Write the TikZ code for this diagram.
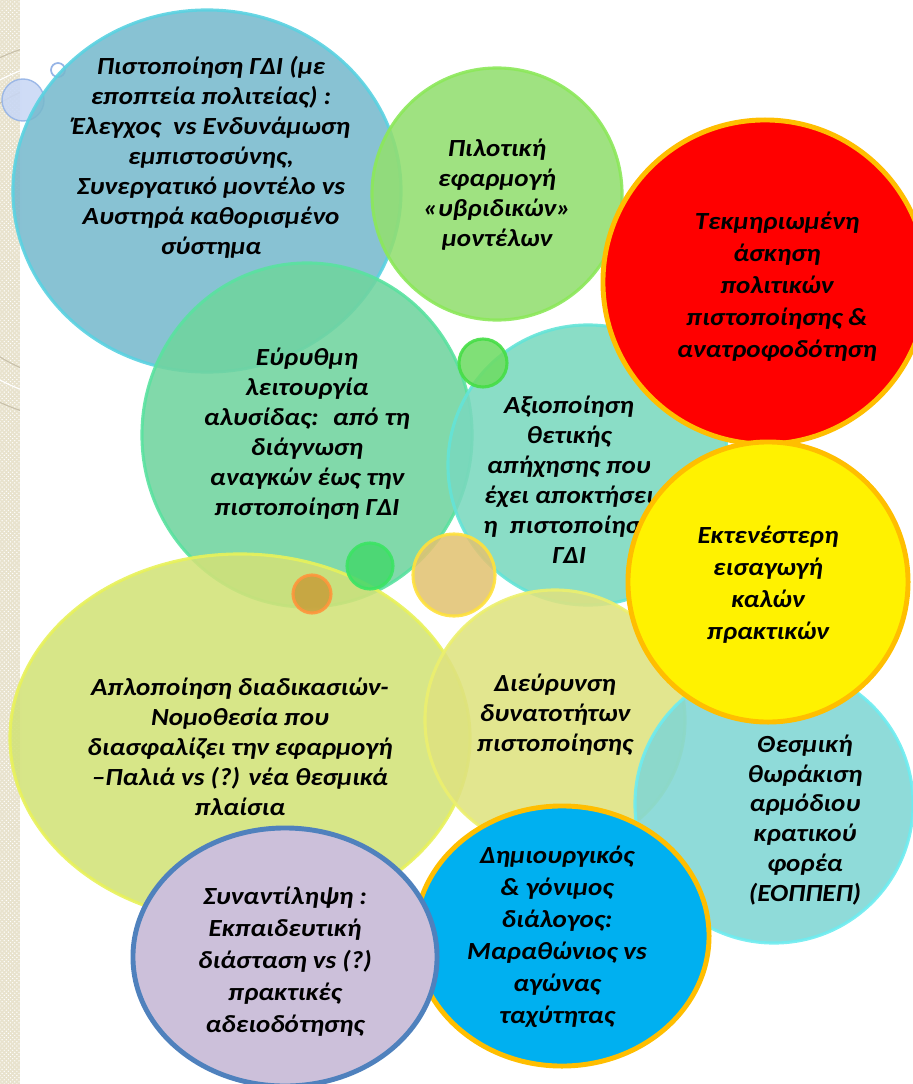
\documentclass[tikz,border=0pt]{standalone}
\usepackage{fontspec}
\setmainfont{Carlito}[FakeStretch=1.1]
\usetikzlibrary{shapes.geometric,patterns}

\definecolor{band}{RGB}{232,226,205}
\definecolor{bandline}{RGB}{200,192,170}
\definecolor{certfill}{RGB}{120,185,205}
\definecolor{certline}{RGB}{90,210,225}
\definecolor{pilotfill}{RGB}{146,222,112}
\definecolor{pilotline}{RGB}{140,232,90}
\definecolor{chainfill}{RGB}{112,212,158}
\definecolor{chainline}{RGB}{90,226,160}
\definecolor{impactfill}{RGB}{122,216,190}
\definecolor{impactline}{RGB}{100,228,215}
\definecolor{simplefill}{RGB}{210,226,120}
\definecolor{simpleline}{RGB}{232,242,90}
\definecolor{widenfill}{RGB}{222,226,128}
\definecolor{widenline}{RGB}{236,240,110}
\definecolor{instfill}{RGB}{128,214,212}
\definecolor{instline}{RGB}{110,236,240}
\definecolor{gold}{RGB}{255,190,0}
\definecolor{skyblue}{RGB}{0,176,240}
\definecolor{lilac}{RGB}{204,192,218}
\definecolor{steel}{RGB}{79,129,189}
\definecolor{pale}{RGB}{200,215,245}
\definecolor{paleline}{RGB}{150,180,230}

\begin{document}
\begin{tikzpicture}[x=0.025cm,y=-0.025cm,
    bubble/.style={ellipse,inner sep=0pt,line width=2.2pt,fill opacity=.88,draw opacity=.9},
    solidbubble/.style={ellipse,inner sep=0pt,line width=3.5pt},
    txt/.style={align=center,inner sep=0pt,font=\bfseries\itshape\fontsize{17.5}{21.3}\selectfont},
    bigtxt/.style={align=center,inner sep=0pt,font=\bfseries\itshape\fontsize{17.5}{22.8}\selectfont}]

\useasboundingbox (0,0) rectangle (913,1084);

% left band of the slide
\fill[band] (0,0) rectangle (21,1084);
\fill[pattern=crosshatch dots,pattern color=white] (0,0) rectangle (21,1084);
\begin{scope}
  \clip (0,0) rectangle (21,420);
  \draw[bandline,thick] (80,230) circle (150);
  \draw[bandline,thick] (80,230) circle (190);
  \draw[white,thick] (80,230) circle (170);
\end{scope}
\draw[white,line width=1.5pt] (21,0) -- (21,1084);

% small bubbles top left
\node[bubble,fill=pale,draw=paleline,line width=1pt,minimum size=1.05cm] (dot1) at (23,100) {};
\node[circle,draw=paleline,fill=white,line width=1.2pt,inner sep=0pt,minimum size=0.35cm] (dot2) at (58,70) {};

% big bubbles
\node[bubble,fill=certfill,draw=certline,minimum width=9.7cm,minimum height=9.05cm] (cert) at (207,191) {};
\node[txt] (certtxt) at (211,157) {Πιστοποίηση ΓΔΙ (με\\εποπτεία πολιτείας) :\\Έλεγχος \ vs Ενδυνάμωση\\εμπιστοσύνης,\\Συνεργατικό μοντέλο vs\\Αυστηρά καθορισμένο\\σύστημα};

\node[bubble,fill=pilotfill,draw=pilotline,minimum width=6.25cm,minimum height=6.3cm] (pilot) at (497,194) {};
\node[txt] (pilottxt) at (497,195) {Πιλοτική\\εφαρμογή\\«υβριδικών»\\μοντέλων};

\node[bubble,fill=chainfill,draw=chainline,minimum width=8.25cm,minimum height=8.6cm] (chain) at (307,435) {};
\node[txt] (chaintxt) at (307,434) {Εύρυθμη\\λειτουργία\\αλυσίδας: \ από τη\\διάγνωση\\αναγκών έως την\\πιστοποίηση ΓΔΙ};

\node[bubble,fill=impactfill,draw=impactline,minimum size=7cm] (impact) at (588,465) {};
\node[txt] (impacttxt) at (569,480) {Αξιοποίηση\\θετικής\\απήχησης που\\έχει αποκτήσει\\η \ πιστοποίηση\\ΓΔΙ};

\node[bubble,fill=simplefill,draw=simpleline,minimum width=11.5cm,minimum height=9.2cm] (simple) at (240,738) {};
\node[txt] (simpletxt) at (240,747) {Απλοποίηση διαδικασιών-\\Νομοθεσία που\\διασφαλίζει την εφαρμογή\\--Παλιά vs (?) νέα θεσμικά\\πλαίσια};

\node[bubble,fill=widenfill,draw=widenline,minimum size=6.5cm] (widen) at (555,720) {};
\node[txt] (widentxt) at (555,715) {Διεύρυνση\\δυνατοτήτων\\πιστοποίησης};

% small bubbles in the middle
\node[bubble,fill={rgb,255:red,110;green,220;blue,100},draw={rgb,255:red,70;green,222;blue,70},minimum size=1.2cm] (dot3) at (483,363) {};
\node[bubble,fill={rgb,255:red,70;green,215;blue,110},draw={rgb,255:red,60;green,228;blue,100},minimum size=1.15cm] (dot4) at (370,566) {};
\node[bubble,fill={rgb,255:red,200;green,160;blue,60},draw={rgb,255:red,255;green,150;blue,60},minimum size=0.95cm] (dot5) at (312,594) {};
\node[bubble,fill={rgb,255:red,225;green,195;blue,115},draw={rgb,255:red,255;green,225;blue,60},minimum size=2.05cm] (dot6) at (454,575) {};

\node[bubble,fill=instfill,draw=instline,minimum size=6.95cm] (inst) at (774,804) {};
\node[txt] (insttxt) at (805,820) {Θεσμική\\θωράκιση\\αρμόδιου\\κρατικού\\φορέα\\(ΕΟΠΠΕΠ)};

\node[solidbubble,fill=red,draw=gold,minimum size=8.1cm] (policy) at (765,282) {};
\node[bigtxt] (policytxt) at (777,287) {Τεκμηριωμένη\\άσκηση\\πολιτικών\\πιστοποίησης \&\\ανατροφοδότηση};

\node[solidbubble,fill=yellow,draw=gold,minimum size=7cm] (practice) at (768,582) {};
\node[bigtxt] (practicetxt) at (768,585) {Εκτενέστερη\\εισαγωγή\\καλών\\πρακτικών};

\node[solidbubble,fill=skyblue,draw=gold,minimum width=7.35cm,minimum height=6.5cm] (dialogue) at (562,936) {};
\node[bigtxt] (dialoguetxt) at (557,937) {Δημιουργικός\\\& γόνιμος\\διάλογος:\\Μαραθώνιος vs\\αγώνας\\ταχύτητας};

\node[solidbubble,fill=lilac,draw=steel,minimum width=7.6cm,minimum height=6.45cm] (consensus) at (285,957) {};
\node[bigtxt] (consensustxt) at (285,962) {Συναντίληψη :\\Εκπαιδευτική\\διάσταση vs (?)\\πρακτικές\\αδειοδότησης};
\end{tikzpicture}
\end{document}
